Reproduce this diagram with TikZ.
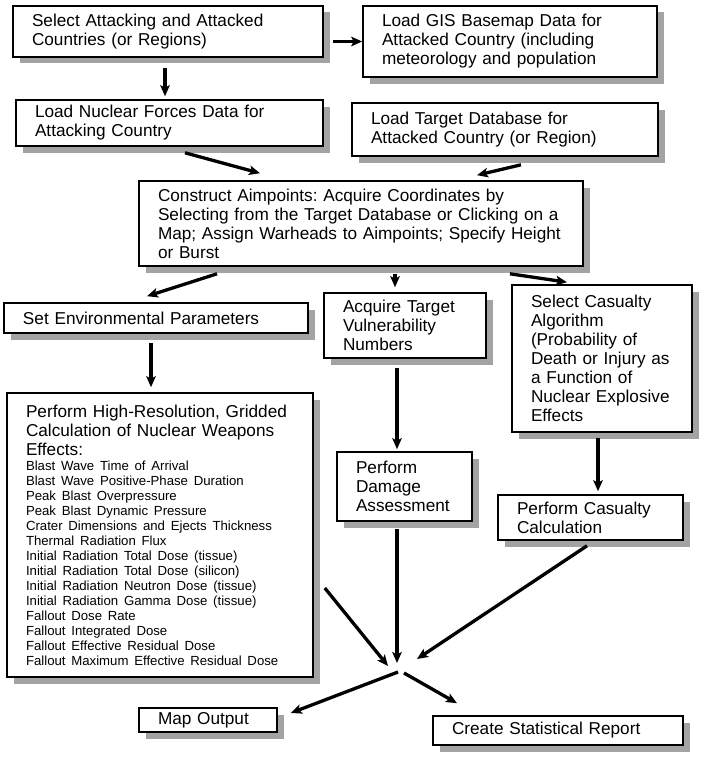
\documentclass[tikz,border=0pt]{standalone}
\usepackage{fontspec}
\setmainfont{Liberation Sans}
\usepackage{tikz}
\usetikzlibrary{arrows.meta, positioning, calc, shadows}
\usepackage{xcolor}
\definecolor{shadowgray}{HTML}{A3A3A3}
\newcommand{\boxfont}{\fontsize{17.2}{19}\selectfont}
\newcommand{\listfont}{\fontsize{13.2}{15}\selectfont}
\frenchspacing

\begin{document}
\begin{tikzpicture}[
    x=1pt, y=-1pt,
    box/.style={draw, line width=1.6pt, fill=white, align=left,
                inner xsep=19pt, inner ysep=2pt, font=\boxfont,
                drop shadow={shadow xshift=6.5pt, shadow yshift=-6.5pt,
                             fill=shadowgray, opacity=1}},
    arr/.style={-{Stealth[length=11pt, width=9.5pt, inset=2.5pt]}, line width=3.3pt}
  ]
    \useasboundingbox (0,0) rectangle (710,760);

    \node[box, text width=272pt, minimum height=51pt] (select) at (168,31.5)
      {Select Attacking and Attacked\\Countries (or Regions)};
    \node[box, text width=256pt, minimum height=71pt] (gis) at (510,41.5)
      {Load GIS Basemap Data for\\Attacked Country (including\\meteorology and population};
    \node[box, text width=269pt, minimum height=46pt] (forces) at (169.5,123)
      {Load Nuclear Forces Data for\\Attacking Country};
    \node[box, text width=268pt, minimum height=53pt] (targetdb) at (505,129.5)
      {Load Target Database for\\Attacked Country (or Region)};
    \node[box, text width=406pt, minimum height=85pt] (aim) at (361,223.5)
      {Construct Aimpoints: Acquire Coordinates by\\Selecting from the Target Database or Clicking on a\\Map; Assign Warheads to Aimpoints; Specify Height\\or Burst};
    \node[box, text width=266pt, minimum height=30pt] (env) at (156,318)
      {Set Environmental Parameters};
    \node[box, text width=124pt, minimum height=65pt] (vuln) at (405,325.5)
      {Acquire Target\\Vulnerability\\Numbers};
    \node[box, text width=142pt, minimum height=147pt] (casalg) at (602,358.5)
      {Select Casualty\\Algorithm\\(Probability of\\Death or Injury as\\a Function of\\Nuclear Explosive\\Effects};
    \node[box, text width=268pt, minimum height=284pt] (effects) at (160,535)
      {Perform High-Resolution, Gridded\\Calculation of Nuclear Weapons\\Effects:\par
       {\raggedright\listfont Blast Wave Time of Arrival\\Blast Wave Positive-Phase Duration\\
       Peak Blast Overpressure\\Peak Blast Dynamic Pressure\\
       Crater Dimensions and Ejects Thickness\\Thermal Radiation Flux\\
       Initial Radiation Total Dose (tissue)\\Initial Radiation Total Dose (silicon)\\
       Initial Radiation Neutron Dose (tissue)\\Initial Radiation Gamma Dose (tissue)\\
       Fallout Dose Rate\\Fallout Integrated Dose\\
       Fallout Effective Residual Dose\\Fallout Maximum Effective Residual Dose\par}};
    \node[box, text width=97pt, minimum height=69pt] (damage) at (404.5,486.5)
      {Perform\\Damage\\Assessment};
    \node[box, text width=147pt, minimum height=45pt] (cascalc) at (590.5,517.5)
      {Perform Casualty\\Calculation};
    \node[box, text width=100pt, minimum height=24pt] (mapout) at (208,720)
      {Map Output};
    \node[box, text width=212pt, minimum height=29pt] (report) at (558,730.5)
      {Create Statistical Report};

    \coordinate (hub) at (400,668);

    \draw[arr, shorten <=9pt] (select.east |- gis.west) -- (gis.west);
    \draw[arr, shorten <=10pt, shorten >=3pt] ([xshift=-3pt]select.south) -- ([xshift=-3pt]select.south |- forces.north);
    \draw[arr] ([xshift=15.5pt, yshift=-6pt]forces.south) -- ([xshift=-101pt, yshift=7pt]aim.north);
    \draw[arr] ([xshift=16pt, yshift=-8pt]targetdb.south) -- ([xshift=116pt, yshift=5pt]aim.north);
    \draw[arr] ([xshift=-144pt, yshift=-7pt]aim.south) -- ([xshift=-9pt, yshift=6pt]env.north);
    \draw[arr, shorten <=7pt, shorten >=5pt] ([xshift=-10pt]vuln.north |- aim.south) -- ([xshift=-10pt]vuln.north);
    \draw[arr] ([xshift=149pt, yshift=-7pt]aim.south) -- ([xshift=-35pt, yshift=2pt]casalg.north);
    \draw[arr, shorten <=9pt, shorten >=5pt] ([xshift=-5pt]env.south) -- ([xshift=-5pt]env.south |- effects.north);
    \draw[arr, shorten <=9pt, shorten >=2pt] ([xshift=-8pt]vuln.south) -- ([xshift=-8pt]vuln.south |- damage.north);
    \draw[arr, shorten <=5pt, shorten >=3pt] ([xshift=-4pt]casalg.south) -- ([xshift=-4pt]casalg.south |- cascalc.north);

    \draw[arr] ([xshift=11pt, yshift=-53pt]effects.east) -- ([xshift=-12pt, yshift=2pt]hub);
    \draw[arr, shorten <=7pt] ([xshift=-7.5pt]damage.south) -- ([xshift=-3pt, yshift=5pt]hub);
    \draw[arr] ([xshift=-3.5pt, yshift=-5pt]cascalc.south) -- ([xshift=17pt, yshift=9pt]hub);
    \draw[arr] ([xshift=-2pt, yshift=-4pt]hub) -- ([xshift=13pt, yshift=7pt]mapout.east);
    \draw[arr] ([xshift=4pt, yshift=-5pt]hub) -- ([xshift=-101pt, yshift=12pt]report.north);
  \end{tikzpicture}
\end{document}
